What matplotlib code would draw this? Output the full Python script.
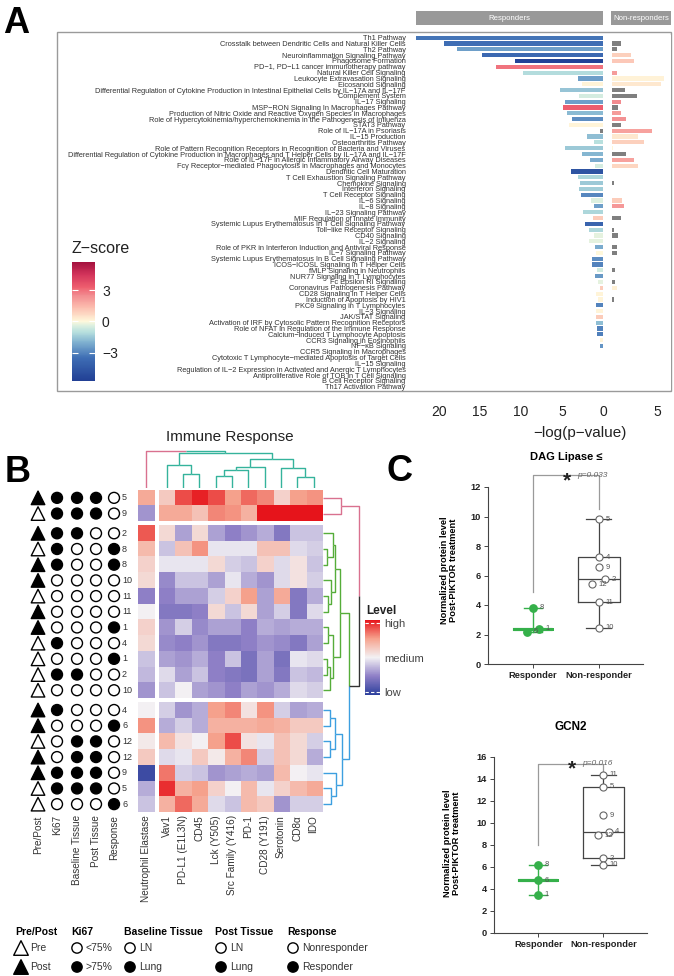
import numpy as np
import matplotlib
matplotlib.use("Agg")
import matplotlib.pyplot as plt
from matplotlib.colors import LinearSegmentedColormap, Normalize
from matplotlib.cm import ScalarMappable
from matplotlib.patches import Rectangle

plt.rcParams['font.family'] = ['Liberation Sans', 'DejaVu Sans']
nan = np.nan

# ---------------- panel A: pathway enrichment ----------------
pathways = [
    "Th1 Pathway",
    "Crosstalk between Dendritic Cells and Natural Killer Cells",
    "Th2 Pathway",
    "Neuroinflammation Signaling Pathway",
    "Phagosome Formation",
    "PD-1, PD-L1 cancer immunotherapy pathway",
    "Natural Killer Cell Signaling",
    "Leukocyte Extravasation Signaling",
    "Eicosanoid Signaling",
    "Differential Regulation of Cytokine Production in Intestinal Epithelial Cells by IL-17A and IL-17F",
    "Complement System",
    "IL-17 Signaling",
    "MSP-RON Signaling In Macrophages Pathway",
    "Production of Nitric Oxide and Reactive Oxygen Species in Macrophages",
    "Role of Hypercytokinemia/hyperchemokinemia in the Pathogenesis of Influenza",
    "STAT3 Pathway",
    "Role of IL-17A in Psoriasis",
    "IL-15 Production",
    "Osteoarthritis Pathway",
    "Role of Pattern Recognition Receptors in Recognition of Bacteria and Viruses",
    "Differential Regulation of Cytokine Production in Macrophages and T Helper Cells by IL-17A and IL-17F",
    "Role of IL-17F in Allergic Inflammatory Airway Diseases",
    "Fc\u03b3 Receptor-mediated Phagocytosis in Macrophages and Monocytes",
    "Dendritic Cell Maturation",
    "T Cell Exhaustion Signaling Pathway",
    "Chemokine Signaling",
    "Interferon Signaling",
    "T Cell Receptor Signaling",
    "IL-6 Signaling",
    "IL-8 Signaling",
    "IL-23 Signaling Pathway",
    "MIF Regulation of Innate Immunity",
    "Systemic Lupus Erythematosus In T Cell Signaling Pathway",
    "Toll-like Receptor Signaling",
    "CD40 Signaling",
    "IL-2 Signaling",
    "Role of PKR in Interferon Induction and Antiviral Response",
    "IL-7 Signaling Pathway",
    "Systemic Lupus Erythematosus In B Cell Signaling Pathway",
    "ICOS-ICOSL Signaling in T Helper Cells",
    "fMLP Signaling in Neutrophils",
    "NUR77 Signaling in T Lymphocytes",
    "Fc Epsilon RI Signaling",
    "Coronavirus Pathogenesis Pathway",
    "CD28 Signaling in T Helper Cells",
    "Induction of Apoptosis by HIV1",
    "PKC\u03b8 Signaling in T Lymphocytes",
    "IL-3 Signaling",
    "JAK/STAT Signaling",
    "Activation of IRF by Cytosolic Pattern Recognition Receptors",
    "Role of NFAT in Regulation of the Immune Response",
    "Calcium-induced T Lymphocyte Apoptosis",
    "CCR3 Signaling in Eosinophils",
    "NF-\u03baB Signaling",
    "CCR5 Signaling in Macrophages",
    "Cytotoxic T Lymphocyte-mediated Apoptosis of Target Cells",
    "IL-15 Signaling",
    "Regulation of IL-2 Expression in Activated and Anergic T Lymphocytes",
    "Antiproliferative Role of TOB in T Cell Signaling",
    "B Cell Receptor Signaling",
    "Th17 Activation Pathway",
]
resp_logp = [22.8, 19.4, 17.8, 14.7, 10.7, 13.1, 9.8, 3.0, 2.6, 5.2,
             2.9, 4.6, 4.9, 4.4, 3.8, 4.2, 0.4, 2.0, 1.1, 4.6,
             2.6, 1.6, 1.0, 3.9, 3.1, 2.8, 2.9, 2.7, 1.5, 1.1,
             2.4, 1.2, 2.2, 1.7, 1.1, 1.7, 1.0, 0.8, 1.3, 1.3,
             0.7, 1.0, 0.65, 0.4, 0.9, 0.65, 0.9, 0.8, 0.85, 0.85,
             0.7, 0.7, 0.4, 0.35, 0.05, 0.05, 0.05, 0.05, 0.05, 0.05, 0.05]
resp_z = [-3.3, -3.5, -2.4, -3.7, -5.5, 2.9, -1.1, -2.4, 0.1, -1.6,
          -0.5, -2.4, 3.3, -1.8, -2.8, 0.1, nan, -1.7, -1.0, -1.5,
          -1.9, -2.1, -0.5, -4.7, -1.2, -1.5, -1.4, -2.9, -0.4, -2.4,
          -1.2, 1.0, -3.9, -1.2, -0.3, -0.3, -2.1, 0.0, -2.8, -3.0,
          -0.6, -2.5, -0.3, 1.0, 0.1, 0.1, -3.0, 0.1, 1.0, -1.7,
          -3.0, -3.1, 0.1, -2.6, 0.0, 0.0, 0.0, 0.0, 0.0, 0.0, 0.0]
nonresp_logp = [0, 1.0, 0.6, 2.1, 2.5, 0, 0.6, 5.8, 5.5, 1.45,
                2.8, 1.05, 0.7, 1.0, 1.6, 1.05, 4.5, 2.9, 3.6, 0.1,
                1.6, 2.4, 2.85, 0, 0.05, 0.2, 0, 0.05, 1.1, 1.3,
                0, 1.0, 0, 0.2, 0.7, 0, 0.6, 0.6, 0, 0,
                0.3, 0, 0.3, 0.6, 0, 0.25, 0, 0, 0, 0,
                0, 0, 0, 0, 0, 0, 0, 0, 0, 0, 0]
nonresp_z = [nan, nan, nan, 0.9, 1.1, nan, 2.1, 0.15, 0.4, nan,
             nan, 2.5, nan, 2.1, 2.4, nan, 2.0, 0.4, 0.9, 0.1,
             nan, 2.0, 0.8, nan, 0.0, nan, nan, 0.0, 1.0, 2.2,
             nan, nan, nan, nan, nan, nan, nan, nan, nan, nan,
             nan, nan, nan, 0.2, nan, nan, nan, nan, nan, nan,
             nan, nan, nan, nan, nan, nan, nan, nan, nan, nan, nan]

# ---------------- panel B: heatmap ----------------
heat_cols = ["Neutrophil Elastase", "Vav1", "PD-L1 (E1L3N)", "CD45", "Lck (Y505)",
             "Src Family (Y416)", "PD-1", "CD28 (Y191)", "Serotonin", "CD8\u03b1", "IDO"]
heat_rows = ["5", "9", "2", "8", "8", "10", "11", "11", "1", "4", "1", "2", "10",
             "4", "6", "12", "12", "9", "5", "6"]
row_groups = [2, 11, 7]
col_groups = [1, 10]
heat_values = [
    [0.45, 0.25, 0.80, 0.95, 0.80, 0.50, 0.70, 0.60, 0.20, 0.50, 0.55],
    [-0.40, 0.45, 0.45, 0.30, 0.60, 0.55, 0.40, 1.00, 1.00, 1.00, 1.00],
    [0.75, 0.15, -0.35, 0.15, -0.35, -0.50, -0.40, -0.30, -0.55, -0.20, -0.20],
    [0.35, -0.20, 0.30, 0.55, -0.05, -0.05, -0.05, 0.30, 0.30, -0.10, -0.15],
    [0.20, -0.05, -0.05, -0.05, 0.15, -0.15, -0.20, 0.20, -0.10, 0.10, -0.20],
    [0.15, -0.45, -0.20, -0.20, -0.35, -0.05, -0.30, -0.40, -0.10, 0.10, -0.15],
    [-0.50, -0.50, -0.35, -0.35, -0.15, 0.20, 0.50, -0.35, 0.45, -0.55, -0.30],
    [0.00, -0.55, -0.55, -0.50, 0.15, -0.20, 0.15, -0.35, -0.15, -0.55, -0.10],
    [0.20, -0.40, -0.15, -0.45, -0.35, -0.35, -0.50, -0.30, -0.35, -0.30, -0.30],
    [0.15, -0.45, -0.50, -0.40, -0.55, -0.55, -0.50, -0.40, -0.45, -0.55, -0.35],
    [-0.20, -0.35, -0.40, -0.30, -0.50, -0.20, -0.60, -0.35, -0.60, -0.05, -0.10],
    [-0.25, -0.10, -0.35, -0.20, -0.50, -0.55, -0.60, -0.35, -0.55, -0.20, -0.25],
    [-0.40, -0.20, 0.00, -0.35, -0.40, -0.50, -0.35, -0.40, -0.30, -0.10, -0.15],
    [0.00, -0.15, -0.40, -0.30, 0.50, 0.60, 0.10, 0.55, -0.15, -0.35, -0.30],
    [0.55, -0.30, -0.15, -0.30, 0.40, 0.40, 0.40, 0.45, 0.40, 0.25, 0.25],
    [0.05, 0.35, 0.10, 0.00, 0.50, 0.80, 0.10, -0.05, 0.30, 0.15, -0.15],
    [0.25, -0.10, -0.05, 0.25, 0.05, 0.40, 0.60, -0.15, 0.30, 0.15, -0.30],
    [-0.90, 0.65, -0.15, -0.20, -0.40, -0.35, -0.30, -0.35, 0.35, 0.00, -0.05],
    [-0.30, 0.90, 0.40, 0.50, 0.20, 0.00, 0.35, -0.05, 0.20, 0.35, 0.45],
    [-0.20, 0.40, 0.70, 0.45, -0.10, -0.20, 0.35, 0.25, -0.40, -0.15, -0.15],
]
# annotation tracks (1 = filled symbol)
pre_post = [1, 0, 1, 0, 1, 1, 0, 1, 1, 0, 0, 0, 0, 1, 1, 0, 1, 1, 0, 0]
ki67 = [1, 1, 1, 1, 1, 0, 0, 0, 0, 1, 0, 1, 0, 1, 0, 0, 0, 1, 1, 0]
baseline_tissue = [1, 1, 1, 0, 0, 0, 0, 0, 0, 0, 0, 1, 0, 0, 0, 1, 1, 1, 1, 0]
post_tissue = [1, 1, 0, 0, 0, 0, 0, 0, 0, 0, 0, 0, 0, 0, 0, 1, 1, 1, 1, 0]
response = [0, 0, 0, 1, 1, 0, 0, 0, 1, 0, 1, 0, 0, 0, 1, 0, 0, 0, 0, 1]
ann_names = ["Pre/Post", "Ki67", "Baseline Tissue", "Post Tissue", "Response"]

# dendrograms: (child a, child b, height) ; new ids continue after leaves
col_merges = [(2, 3, 14), (1, 11, 23), (4, 5, 12), (13, 6, 18), (14, 7, 21),
              (9, 10, 11), (8, 16, 20), (15, 17, 29), (12, 18, 35.5), (0, 19, 37)]
row_merges = [(3, 4, 4), (2, 20, 10), (6, 7, 5), (5, 22, 8), (21, 23, 12),
              (8, 9, 5), (10, 11, 4), (26, 12, 7), (25, 27, 10), (24, 28, 17),
              (13, 14, 7), (15, 16, 7), (30, 31, 12), (18, 19, 8), (17, 33, 13),
              (32, 34, 19), (29, 35, 26), (0, 1, 18), (37, 36, 36)]

# ---------------- panel C: box plots ----------------
dag_resp = [3.8, 2.4, 2.2]
dag_resp_ids = ["8", "1", "6"]
dag_nonresp = [9.8, 7.25, 6.55, 5.75, 5.4, 4.2, 2.45]
dag_nonresp_ids = ["5", "4", "9", "2", "12", "11", "10"]
gcn2_resp = [6.2, 4.8, 3.5]
gcn2_resp_ids = ["8", "6", "1"]
gcn2_nonresp = [14.4, 13.3, 10.7, 9.2, 8.9, 6.8, 6.2]
gcn2_nonresp_ids = ["11", "5", "9", "4", "12", "2", "10"]

W, H = 674, 976
fig = plt.figure(figsize=(W / 100, H / 100), dpi=100)


def fbox(x0, y0, x1, y1):
    return [x0 / W, 1 - y1 / H, (x1 - x0) / W, (y1 - y0) / H]


ov = fig.add_axes([0, 0, 1, 1])
ov.set_xlim(0, W)
ov.set_ylim(H, 0)
ov.axis('off')

# ---------- A ----------
z_nodes = [(-5.7, '#213f94'), (-3.5, '#3e6db4'), (-2.0, '#7fb1d0'), (-1.0, '#b8e0de'),
           (-0.4, '#dbefe0'), (0.0, '#fff9dc'), (0.7, '#fdd9c4'), (1.5, '#fbb7ab'),
           (2.5, '#f28c90'), (3.3, '#ee5e6e'), (4.5, '#d3345b'), (5.7, '#a3113e')]
z_cmap = LinearSegmentedColormap.from_list('z', [((v + 5.7) / 11.4, c) for v, c in z_nodes])
z_norm = Normalize(-5.7, 5.7)


def zcolors(zs):
    return ['#7f7f7f' if np.isnan(z) else z_cmap(z_norm(z)) for z in zs]


labels_a = [p.replace('-', '\u2212') for p in pathways]
rows = np.arange(len(pathways))

axL = fig.add_axes(fbox(406.2, 34.8, 605.5, 389.6))
axL.barh(rows, resp_logp, height=0.72, color=zcolors(resp_z))
axL.set_xlim(24, -0.3)
axL.set_ylim(len(rows) - 0.5, -0.5)
axL.set_yticks(rows, labels_a)
axL.tick_params(axis='y', length=0, pad=0.5, labelsize=5.35, labelcolor='#333333')
axL.set_xticks([20, 15, 10, 5, 0])
axL.tick_params(axis='x', length=0, pad=11, labelsize=10, labelcolor='#222222')
for s in axL.spines.values():
    s.set_visible(False)

axR = fig.add_axes(fbox(609.3, 34.8, 671, 389.6))
axR.barh(rows, nonresp_logp, height=0.72, color=zcolors(nonresp_z))
axR.set_xlim(-0.3, 6.56)
axR.set_ylim(len(rows) - 0.5, -0.5)
axR.set_yticks([])
axR.set_xticks([5])
axR.tick_params(axis='x', length=0, pad=11, labelsize=10, labelcolor='#222222')
for s in axR.spines.values():
    s.set_visible(False)

ov.add_patch(Rectangle((57, 32), 614, 359, fill=False, ec='#9a9a9a', lw=1.0))
ov.add_patch(Rectangle((416, 11), 187, 14, fc='#999999', ec='none'))
ov.add_patch(Rectangle((611, 11), 60, 14, fc='#999999', ec='none'))
ov.text(509.5, 18, 'Responders', color='white', fontsize=5.6, ha='center', va='center')
ov.text(641, 18, 'Non-responders', color='white', fontsize=5.6, ha='center', va='center')
ov.text(580, 433, '\u2212log(p\u2212value)', fontsize=11, ha='center', va='center', color='#222222')
ov.text(3, 33, 'A', fontsize=26, fontweight='bold', ha='left', va='baseline')

cax = fig.add_axes(fbox(72, 262, 95, 381))
cb = fig.colorbar(ScalarMappable(norm=z_norm, cmap=z_cmap), cax=cax, ticks=[-3, 0, 3])
cb.outline.set_visible(False)
cax.tick_params(axis='y', direction='in', length=4, width=0.8, color='white',
                left=True, right=True, labelsize=10, labelcolor='#222222', pad=5)
ov.text(72, 253, 'Z\u2212score', fontsize=11.5, ha='left', va='baseline', color='#222222')

# ---------- B ----------
lvl_cmap = LinearSegmentedColormap.from_list(
    'lvl', [(0, '#2b3f9c'), (0.25, '#8e7fc6'), (0.5, '#f3f1f4'), (0.75, '#f6a38e'), (1, '#e6141b')])
lvl_norm = Normalize(-1, 1)

vals = np.array(heat_values)
n_r, n_c = vals.shape
gap_r, gap_c = 0.26, 0.25
row_top = np.arange(n_r) + gap_r * np.repeat(np.arange(len(row_groups)), row_groups)
col_left = np.arange(n_c) + gap_c * np.repeat(np.arange(len(col_groups)), col_groups)
row_mid = row_top + 0.5
col_mid = col_left + 0.5
y_bot = row_top[-1] + 1
x_right = col_left[-1] + 1
ux = 16.3  # px per cell column

x0_px = 20
axH = fig.add_axes(fbox(x0_px, 490, 321.7, 812))
r_edges = np.cumsum([0] + row_groups)
c_edges = np.cumsum([0] + col_groups)
for gi in range(len(row_groups)):
    for gj in range(len(col_groups)):
        r0, r1 = r_edges[gi], r_edges[gi + 1]
        c0, c1 = c_edges[gj], c_edges[gj + 1]
        axH.imshow(vals[r0:r1, c0:c1], cmap=lvl_cmap, norm=lvl_norm, aspect='auto',
                   interpolation='nearest',
                   extent=(col_left[c0], col_left[c1 - 1] + 1, row_top[r1 - 1] + 1, row_top[r0]))

ann_px = [38, 57, 77, 96, 114]
ann_x = [(p - 138.3) / ux for p in ann_px]
tracks = [pre_post, ki67, baseline_tissue, post_tissue, response]
for k, tr in enumerate(tracks):
    fc = ['black' if v else 'white' for v in tr]
    if k == 0:
        axH.scatter([ann_x[k]] * n_r, row_mid, marker='^', s=95, facecolors=fc,
                    edgecolors='black', linewidths=1.0, clip_on=False)
    else:
        axH.scatter([ann_x[k]] * n_r, row_mid, marker='o', s=62, facecolors=fc,
                    edgecolors='black', linewidths=1.0, clip_on=False)
    axH.text(ann_x[k], y_bot + 0.2, ann_names[k], rotation=90, ha='center', va='top',
             fontsize=7.2, color='#333333')
for i, lab in enumerate(heat_rows):
    axH.text((122 - 138.3) / ux, row_mid[i], lab, ha='left', va='center', fontsize=6.5,
             color='#333333')
for j, lab in enumerate(heat_cols):
    axH.text(col_mid[j], y_bot + 0.2, lab, rotation=90, ha='center', va='top',
             fontsize=7.2, color='#333333')
axH.set_xlim(x_right - (321.7 - x0_px) / ux, x_right)
axH.set_ylim(y_bot, 0)
axH.axis('off')
ov.text(230, 437, 'Immune Response', fontsize=11, ha='center', va='center', color='#222222')
ov.text(5, 482, 'B', fontsize=26, fontweight='bold', ha='left', va='baseline')


def dendro(merges, leaf_pos):
    # each link returned as two half-U paths (towards child a, towards child b)
    pos = list(leaf_pos)
    hgt = [0.0] * len(leaf_pos)
    links = []
    for a, b, h in merges:
        mid = (pos[a] + pos[b]) / 2
        links.append((([pos[a], pos[a], mid], [hgt[a], h, h]),
                      ([mid, pos[b], pos[b]], [h, h, hgt[b]])))
        pos.append(mid)
        hgt.append(h)
    return links


teal, pink, green, blue, dark = '#35b39c', '#d9718f', '#56ad3a', '#3d9fe0', '#333333'
axD = fig.add_axes(fbox(138.3, 445, 321.7, 488))
col_colors = [(teal, teal)] * 9 + [(pink, teal)]
for halves, cc in zip(dendro(col_merges, col_mid), col_colors):
    for (xs, ys), c in zip(halves, cc):
        axD.plot(xs, ys, color=c, lw=1.0, solid_capstyle='butt')
axD.set_xlim(0, x_right)
axD.set_ylim(0, 43)
axD.axis('off')

axE = fig.add_axes(fbox(323, 490, 363, 812))
row_colors = ([(green, green)] * 10 + [(blue, blue)] * 6 +
              [(green, blue), (pink, pink), (pink, dark)])
for halves, cc in zip(dendro(row_merges, row_mid), row_colors):
    for (ys, xs), c in zip(halves, cc):
        axE.plot(xs, ys, color=c, lw=1.0, solid_capstyle='butt')
axE.set_ylim(y_bot, 0)
axE.set_xlim(0, 40)
axE.axis('off')

cax2 = fig.add_axes(fbox(365, 620, 380, 695))
cb2 = fig.colorbar(ScalarMappable(norm=lvl_norm, cmap=lvl_cmap), cax=cax2, ticks=[-0.93, 0, 0.93])
cb2.outline.set_visible(False)
cb2.set_ticklabels(['low', 'medium', 'high'])
cax2.tick_params(axis='y', length=0, labelsize=8, labelcolor='#444444', pad=3)
for t in (-0.93, 0.93):
    cax2.axhline(t, color='white', lw=0.8, ls=(0, (3, 2)))
ov.text(366, 614, 'Level', fontsize=8.5, fontweight='bold', ha='left', va='baseline', color='#222222')

# legend
leg_x = [15, 71, 124, 215, 287]
for k, name in enumerate(ann_names):
    ov.text(leg_x[k], 935, name, fontsize=7.5, fontweight='bold', ha='left', va='baseline')
leg_items = [("Pre", "Post"), ("<75%", ">75%"), ("LN", "Lung"), ("LN", "Lung"),
             ("Nonresponder", "Responder")]
for k, (lo, hi) in enumerate(leg_items):
    mk = '^' if k == 0 else 'o'
    ss = 110 if k == 0 else 55
    sx = leg_x[k] + 6
    ov.scatter([sx, sx], [948, 967], marker=mk, s=ss, facecolors=['white', 'black'],
               edgecolors='black', linewidths=1.0)
    ov.text(sx + 9, 948, lo, fontsize=7.5, ha='left', va='center', color='#333333')
    ov.text(sx + 9, 967, hi, fontsize=7.5, ha='left', va='center', color='#333333')

# ---------- C ----------
resp_green = '#35b04a'


def box_panel(rect, resp, resp_ids, nonr, nonr_ids, ymax, jit_r, jit_n, br, ptxt):
    ax = fig.add_axes(rect)
    r = np.array(resp)
    n = np.array(nonr)
    st_r = dict(med=np.median(r), q1=np.median(r), q3=np.median(r),
                whislo=r.min(), whishi=r.max(), fliers=[])
    q1, q3 = np.percentile(n, [25, 75], method='weibull')
    st_n = dict(med=np.median(n), q1=q1, q3=q3, whislo=n.min(), whishi=n.max(), fliers=[])
    ax.bxp([st_r], positions=[1], widths=0.58, capwidths=0.28, showfliers=False,
           boxprops=dict(color=resp_green, lw=2.2), medianprops=dict(color=resp_green, lw=2.2),
           whiskerprops=dict(color=resp_green, lw=1.0), capprops=dict(color=resp_green, lw=1.0))
    ax.bxp([st_n], positions=[2], widths=0.64, capwidths=0.38, showfliers=False,
           boxprops=dict(color='#444444', lw=0.9), medianprops=dict(color='#444444', lw=0.9),
           whiskerprops=dict(color='#444444', lw=0.9), capprops=dict(color='#444444', lw=0.9))
    xr = 1 + np.array(jit_r)
    xn = 2 + np.array(jit_n)
    ax.scatter(xr, r, s=28, color=resp_green, zorder=3)
    ax.scatter(xn, n, s=26, facecolors='white', edgecolors='#666666', linewidths=0.8, zorder=3)
    for x, y, t in zip(xr, r, resp_ids):
        ax.text(x + 0.1, y, t, fontsize=5.5, color='#555555', va='center', ha='left')
    for x, y, t in zip(xn, n, nonr_ids):
        ax.text(x + 0.1, y, t, fontsize=5.5, color='#555555', va='center', ha='left')
    ax.plot([1, 1, 2, 2], br, color='#9a9a9a', lw=0.9, clip_on=False)
    px_per_unit = rect[3] * H / ymax
    ax.text(1.52, br[1] - 5.5 / px_per_unit, '*', fontsize=15, fontweight='bold', ha='center',
            va='center', color='#222222')
    ax.text(1.68, br[1], ptxt, fontsize=6, style='italic', ha='left', va='center', color='#666666')
    ax.set_xlim(0.32, 2.67)
    ax.set_ylim(0, ymax)
    ax.set_yticks(np.arange(0, ymax + 1, 2))
    ax.set_xticks([1, 2], ['Responder', 'Non-responder'])
    for t in ax.get_xticklabels() + ax.get_yticklabels():
        t.set_fontweight('bold')
    ax.tick_params(labelsize=6.7, length=3, width=0.7, color='#444444', labelcolor='#222222', pad=2)
    for s in ['top', 'right']:
        ax.spines[s].set_visible(False)
    for s in ['left', 'bottom']:
        ax.spines[s].set_color('#444444')
        ax.spines[s].set_linewidth(0.8)
    return ax


box_panel(fbox(488, 487, 643, 664), dag_resp, dag_resp_ids, dag_nonresp, dag_nonresp_ids, 12,
          [0, 0.09, -0.09], [0, 0, 0, 0.09, -0.1, 0, 0], [4.9, 12.8, 12.8, 10.5], 'p=0.033')
box_panel(fbox(494, 757, 647, 933), gcn2_resp, gcn2_resp_ids, gcn2_nonresp, gcn2_nonresp_ids, 16,
          [0, 0, 0], [0, 0, 0, 0.08, -0.08, 0, 0], [8, 15.4, 15.4, 14.6], 'p=0.016')
ov.text(566, 457, 'DAG Lipase \u2264', fontsize=8, fontweight='bold', ha='center', va='center')
ov.text(571, 727, 'GCN2', fontsize=8.5, fontweight='bold', ha='center', va='center')
ylab = 'Normalized protein level\nPost-PIKTOR treatment'
ov.text(449, 570, ylab, fontsize=6.7, fontweight='bold', rotation=90, ha='center', va='center',
        linespacing=1.1)
ov.text(452, 843, ylab, fontsize=6.7, fontweight='bold', rotation=90, ha='center', va='center',
        linespacing=1.1)
ov.text(387, 481, 'C', fontsize=26, fontweight='bold', ha='left', va='baseline')

fig.savefig('out.png', dpi=100)
